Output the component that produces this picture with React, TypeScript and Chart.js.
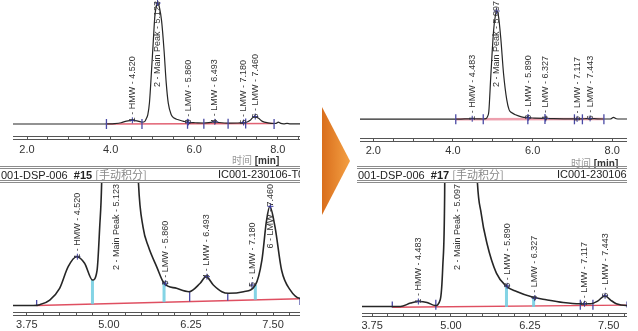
import React, { useEffect, useRef } from 'react';
import { Chart, registerables } from 'chart.js';

Chart.register(...registerables);

// ---------- data: sample #15 (left) ----------
const timeA = [1.60, 3.00, 3.85, 3.95, 4.10, 4.25, 4.38, 4.51, 4.63, 4.75, 4.82, 4.86, 4.89, 4.93, 4.98, 5.02, 5.06, 5.10, 5.13, 5.17, 5.22, 5.28, 5.33, 5.38, 5.45, 5.52, 5.60, 5.73, 5.84, 6.03, 6.22, 6.39, 6.48, 6.59, 6.72, 6.82, 7.05, 7.23, 7.33, 7.40, 7.45, 7.53, 7.63, 7.76, 7.91, 7.96, 8.01, 8.07, 8.14, 8.22, 8.30, 8.60];
const signalA = [0, 0, 0, 0.05, 0.34, 1.07, 2.43, 3.05, 2.64, 1.59, 2.2, 4.9, 7.7, 18, 45, 68, 90, 98, 100, 96, 85, 60, 34, 17, 7.7, 4.9, 3.7, 2.4, 1.39, 1.07, 0.86, 1.39, 1.8, 1.28, 0.86, 0.76, 0.86, 1.28, 2.84, 5.3, 6.2, 4.9, 2.2, 0.97, 0.45, 0.5, 1.6, 0.5, 0.2, 0.5, 0.15, 0.1];
const peakTimesA = [4.520, 5.123, 5.860, 6.493, 7.180, 7.460];
const peakHeightsA = [3.05, 100, 1.39, 1.8, 1.28, 6.2];
const peakLabelsA = ['1 - HMW - 4.520', '2 - Main Peak - 5.123', '3 - LMW - 5.860', '4 - LMW - 6.493', '5 - LMW - 7.180', '6 - LMW - 7.460'];
const baseTimesA = [3.90, 7.91];
const baseValuesA = [0, 0.42];
const boundTimesA = [3.90, 4.75, 5.84, 6.23, 6.81, 7.23, 7.91];
const boundTopsA = [0.34, 1.59, 1.39, 0.86, 0.76, 1.28, 0.45];
const boundBasesA = [0, 0.08, 0.2, 0.24, 0.3, 0.35, 0.03];
const boundKindsA = ['b', 'c', 'c', 'b', 'b', 'c', 'b'];

// ---------- data: sample #17 (right) ----------
const timeB = [1.60, 3.90, 4.07, 4.20, 4.36, 4.49, 4.62, 4.75, 4.83, 4.87, 4.90, 4.95, 5.02, 5.07, 5.10, 5.14, 5.20, 5.27, 5.35, 5.41, 5.48, 5.57, 5.72, 5.87, 6.04, 6.29, 6.51, 6.78, 7.04, 7.22, 7.33, 7.44, 7.53, 7.62, 7.78, 7.95, 8.03, 8.10, 8.20, 8.45];
const signalB = [0, 0, 0, 0, 0.21, 0.31, 0.25, 0.06, 0.42, 2.5, 7, 40, 82, 97, 100, 96, 75, 42, 18, 8.5, 5.8, 3.96, 2.09, 1.29, 0.94, 0.59, 0.42, 0.25, 0.17, 0.17, 0.35, 0.67, 0.4, 0.17, 0.06, 0.1, 1.5, 0.3, 0.1, 0.1];
const peakTimesB = [4.483, 5.097, 5.890, 6.327, 7.117, 7.443];
const peakHeightsB = [0.31, 100, 1.29, 0.52, 0.17, 0.67];
const peakLabelsB = ['1 - HMW - 4.483', '2 - Main Peak - 5.097', '3 - LMW - 5.890', '4 - LMW - 6.327', '5 - LMW - 7.117', '6 - LMW - 7.443'];
const baseTimesB = [4.07, 7.78];
const baseValuesB = [-0.05, 0.08];
const boundTimesB = [4.07, 4.76, 5.88, 6.31, 7.05, 7.25, 7.79];
const boundTopsB = [0.31, 0.42, 1.29, 0.59, 0.42, 0.42, 0.31];
const boundBasesB = [-0.06, -0.2, -0.04, -0.03, -0.2, -0.2, -0.06];
const boundKindsB = ['b', 'b', 'c', 'c', 'b', 'b', 'b'];

// ---------- axis ticks ----------
const fullTicks = [2.0, 2.5, 3.0, 3.5, 4.0, 4.5, 5.0, 5.5, 6.0, 6.5, 7.0, 7.5, 8.0, 8.5];
const fullTickLabels = ['2.0', '', '', '', '4.0', '', '', '', '6.0', '', '', '', '8.0', ''];
const zoomTicks = [3.75, 4.0, 4.25, 4.5, 4.75, 5.0, 5.25, 5.5, 5.75, 6.0, 6.25, 6.5, 6.75, 7.0, 7.25, 7.5, 7.75];
const zoomTickLabels = ['3.75', '', '', '', '', '5.00', '', '', '', '', '6.25', '', '', '', '', '7.50', ''];

const FONT = '"Liberation Sans", Arial, sans-serif';

type Panel = {
  left: number; top: number; width: number; height: number; axisH: number;
  xMin: number; xMax: number; yMin: number; yMax: number;
  times: number[]; signal: number[];
  peakT: number[]; peakH: number[]; peakL: string[];
  baseT: number[]; baseV: number[];
  bT: number[]; bTop: number[]; bBase: number[]; bKind: string[];
  ticks: number[]; tickLabels: string[]; tickPad: number;
  zoomed: boolean; lineW: number; baseW: number; baseColor: string;
};

const panels: Panel[] = [
  {
    left: 13, top: 0, width: 287, height: 170, axisH: 34,
    xMin: 1.665, xMax: 8.53, yMin: -9.9, yMax: 102.5,
    times: timeA, signal: signalA, peakT: peakTimesA, peakH: peakHeightsA, peakL: peakLabelsA,
    baseT: baseTimesA, baseV: baseValuesA, bT: boundTimesA, bTop: boundTopsA, bBase: boundBasesA, bKind: boundKindsA,
    ticks: fullTicks, tickLabels: fullTickLabels, tickPad: 4, zoomed: false, lineW: 1.2, baseW: 1.4, baseColor: 'rgba(220,70,90,0.85)',
  },
  {
    left: 360, top: 0, width: 267, height: 170, axisH: 32,
    xMin: 1.665, xMax: 8.37, yMin: -17.5, yMax: 110.2,
    times: timeB, signal: signalB, peakT: peakTimesB, peakH: peakHeightsB, peakL: peakLabelsB,
    baseT: baseTimesB, baseV: baseValuesB, bT: boundTimesB, bTop: boundTopsB, bBase: boundBasesB, bKind: boundKindsB,
    ticks: fullTicks, tickLabels: fullTickLabels, tickPad: 3, zoomed: false, lineW: 1.2, baseW: 2.5, baseColor: 'rgba(230,120,140,0.7)',
  },
  {
    left: 13, top: 183, width: 287, height: 148, axisH: 19,
    xMin: 3.54, xMax: 7.91, yMin: -0.41, yMax: 7.66,
    times: timeA, signal: signalA, peakT: peakTimesA, peakH: peakHeightsA, peakL: peakLabelsA,
    baseT: baseTimesA, baseV: baseValuesA, bT: boundTimesA, bTop: boundTopsA, bBase: boundBasesA, bKind: boundKindsA,
    ticks: zoomTicks, tickLabels: zoomTickLabels, tickPad: 3, zoomed: true, lineW: 1.6, baseW: 1.4, baseColor: 'rgba(220,60,80,0.9)',
  },
  {
    left: 362, top: 183, width: 265, height: 148, axisH: 18,
    xMin: 3.59, xMax: 7.79, yMin: -0.41, yMax: 7.73,
    times: timeB, signal: signalB, peakT: peakTimesB, peakH: peakHeightsB, peakL: peakLabelsB,
    baseT: baseTimesB, baseV: baseValuesB, bT: boundTimesB, bTop: boundTopsB, bBase: boundBasesB, bKind: boundKindsB,
    ticks: zoomTicks, tickLabels: zoomTickLabels, tickPad: 3, zoomed: true, lineW: 1.6, baseW: 1.4, baseColor: 'rgba(220,60,80,0.9)',
  },
];

function buildChart(canvas: HTMLCanvasElement, p: Panel) {
  const datasets: any[] = [];
  datasets.push({
    data: p.times.map((t, i) => ({ x: t, y: p.signal[i] })),
    borderColor: '#262626', borderWidth: p.lineW, pointRadius: 0,
    cubicInterpolationMode: 'monotone', fill: false, order: 2,
  });
  datasets.push({
    data: p.baseT.map((t, i) => ({ x: t, y: p.baseV[i] })),
    borderColor: p.baseColor, borderWidth: p.baseW, pointRadius: 0, tension: 0, fill: false, order: 4,
  });
  if (p.zoomed) {
    p.bT.forEach((t, i) => {
      const cyan = p.bKind[i] === 'c';
      datasets.push({
        data: [{ x: t, y: p.bTop[i] }, { x: t, y: p.bBase[i] }],
        borderColor: cyan ? 'rgba(110,205,225,0.85)' : '#4a4aa5',
        borderWidth: cyan ? 3 : 1.3, pointRadius: 0, tension: 0, fill: false, order: 3,
      });
    });
  } else {
    datasets.push({
      data: p.bT.map((t, i) => ({ x: t, y: p.bBase[i] })),
      showLine: false, pointStyle: 'line', pointRotation: 90, pointRadius: 5,
      pointBorderColor: '#4a4aa5', pointBorderWidth: 1.3, order: 1,
    });
  }
  datasets.push({
    data: p.peakT.map((t, i) => ({ x: t, y: p.peakH[i] })),
    showLine: false, pointStyle: 'cross', pointRadius: 3,
    pointBorderColor: '#3c3c9c', pointBorderWidth: 1, order: 0,
  });

  const secondAxis = {
    id: 'secondAxis',
    afterDraw(chart: any) {
      const { ctx, chartArea: a } = chart;
      ctx.save();
      ctx.strokeStyle = '#555';
      ctx.lineWidth = 1;
      ctx.beginPath();
      ctx.moveTo(a.left, Math.round(a.bottom) + 3.5);
      ctx.lineTo(a.right, Math.round(a.bottom) + 3.5);
      ctx.stroke();
      ctx.restore();
    },
  };

  const peakLabels = {
    id: 'peakLabels',
    afterDatasetsDraw(chart: any) {
      const { ctx, chartArea: a, scales } = chart;
      ctx.save();
      ctx.font = '9px ' + FONT;
      ctx.fillStyle = '#333';
      ctx.textAlign = 'left';
      ctx.textBaseline = 'middle';
      p.peakT.forEach((t, i) => {
        const x = scales.x.getPixelForValue(t);
        const py = scales.y.getPixelForValue(p.peakH[i]);
        const w = ctx.measureText(p.peakL[i]).width;
        const start = Math.max(py + 2, a.top + w + 1);
        ctx.save();
        ctx.translate(x, start);
        ctx.rotate(-Math.PI / 2);
        ctx.fillText(p.peakL[i], 0, 0);
        ctx.restore();
      });
      ctx.restore();
    },
  };

  return new Chart(canvas, {
    type: 'line',
    data: { datasets },
    plugins: [secondAxis, peakLabels],
    options: {
      responsive: false,
      animation: false,
      events: [],
      layout: { padding: 0, autoPadding: false },
      plugins: { legend: { display: false }, tooltip: { enabled: false } },
      scales: {
        x: {
          type: 'linear', min: p.xMin, max: p.xMax,
          afterBuildTicks: (s: any) => {
            s.ticks = p.ticks.filter((v) => v >= p.xMin && v <= p.xMax).map((v) => ({ value: v }));
          },
          afterFit: (s: any) => {
            s.height = p.axisH;
            s.paddingLeft = 0;
            s.paddingRight = 0;
          },
          ticks: {
            autoSkip: false, maxRotation: 0, minRotation: 0, padding: p.tickPad,
            color: '#333', font: { family: FONT, size: 11 },
            callback: (v: any) => {
              const idx = p.ticks.indexOf(Number(v));
              return idx >= 0 ? p.tickLabels[idx] : '';
            },
          },
          grid: { display: true, drawOnChartArea: false, drawTicks: true, tickLength: 3, color: '#555', lineWidth: 1 },
          border: { display: true, color: '#555', width: 1 },
        },
        y: { display: false, min: p.yMin, max: p.yMax },
      },
    } as any,
  });
}

function ChartPanel({ p }: { p: Panel }) {
  const ref = useRef<HTMLCanvasElement>(null);
  useEffect(() => {
    const chart = buildChart(ref.current as HTMLCanvasElement, p);
    return () => chart.destroy();
  }, [p]);
  return (
    <canvas
      ref={ref}
      width={p.width}
      height={p.height}
      style={{ position: 'absolute', left: p.left, top: p.top, width: p.width, height: p.height }}
    />
  );
}

function Header({ left, width, run, right, rightAt }: { left: number; width: number; run: string; right: string; rightAt: number }) {
  return (
    <div
      style={{
        position: 'absolute', left, top: 166, width, height: 11,
        borderTop: '3px double #8c8c8c', borderBottom: '3px double #8c8c8c',
        overflow: 'hidden', fontFamily: FONT, fontSize: 11, lineHeight: '11px',
        color: '#222', whiteSpace: 'pre',
      }}
    >
      <span style={{ position: 'absolute', left: 1, top: 0 }}>
        {'001-DSP-006  '}
        <b>{run}</b>{' '}
        <span style={{ color: '#888', fontFamily: '"Noto Sans CJK SC", sans-serif' }}>[手动积分]</span>
      </span>
      <span style={{ position: 'absolute', left: rightAt, top: 0 }}>{right}</span>
    </div>
  );
}

function AxisTitle({ left, top }: { left: number; top: number }) {
  return (
    <div style={{ position: 'absolute', left, top, whiteSpace: 'nowrap', lineHeight: '12px' }}>
      <span style={{ color: '#999', fontFamily: '"Noto Sans CJK SC", sans-serif', fontSize: 10 }}>时间</span>
      <span style={{ color: '#333', fontFamily: FONT, fontSize: 10, fontWeight: 'bold' }}> [min]</span>
    </div>
  );
}

export default function App() {
  return (
    <div
      style={{
        position: 'fixed', left: 0, top: 0, width: 638, height: 331,
        background: '#fff', overflow: 'hidden', fontFamily: FONT,
      }}
    >
      {panels.map((p, i) => (
        <ChartPanel key={i} p={p} />
      ))}
      <AxisTitle left={232} top={153} />
      <AxisTitle left={571} top={156} />
      <Header left={0} width={300} run="#15" right="IC001-230106-T01" rightAt={218} />
      <Header left={357} width={270} run="#17" right="IC001-230106-H01" rightAt={200} />
      <div
        style={{
          position: 'absolute', left: 322, top: 107, width: 28, height: 108,
          background: 'linear-gradient(to right, #d96e1c, #f4a043)',
          clipPath: 'polygon(0 0, 100% 50%, 0 100%)',
        }}
      />
    </div>
  );
}
